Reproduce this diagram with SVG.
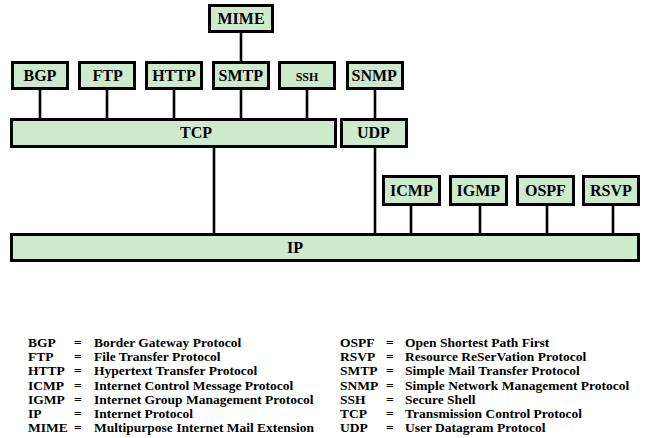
<svg xmlns="http://www.w3.org/2000/svg" width="647" height="438" viewBox="0 0 647 438">
<style>
.box{fill:#cdeacd;stroke:#000;stroke-width:3}
.conn line{stroke:#000;stroke-width:2.6}
text{font-family:'Liberation Serif','Times New Roman',serif;font-weight:bold;fill:#000}
.lbl{font-size:16px}
.leg text{font-size:13.5px}
</style>
<rect width="647" height="438" fill="#fff"/>
<g class="conn" id="connectors">
<line x1="241" y1="33" x2="241" y2="61"/>
<line x1="40" y1="90" x2="40" y2="118"/>
<line x1="107" y1="90" x2="107" y2="118"/>
<line x1="174" y1="90" x2="174" y2="118"/>
<line x1="241" y1="90" x2="241" y2="118"/>
<line x1="307" y1="90" x2="307" y2="118"/>
<line x1="375" y1="90" x2="375" y2="118"/>
<line x1="214" y1="148" x2="214" y2="233"/>
<line x1="375" y1="148" x2="375" y2="233"/>
<line x1="411" y1="205" x2="411" y2="233"/>
<line x1="480" y1="205" x2="480" y2="233"/>
<line x1="547" y1="205" x2="547" y2="233"/>
<line x1="613" y1="205" x2="613" y2="233"/>
</g>
<g id="MIME"><rect class="box" x="209.5" y="5.5" width="63" height="26"/><text class="lbl" x="217.5" y="24">MIME</text></g>
<g id="BGP"><rect class="box" x="12.5" y="62.5" width="55" height="26"/><text class="lbl" x="23.5" y="81">BGP</text></g>
<g id="FTP"><rect class="box" x="79.5" y="62.5" width="55" height="26"/><text class="lbl" x="92.5" y="81">FTP</text></g>
<g id="HTTP"><rect class="box" x="146.5" y="62.5" width="55" height="26"/><text class="lbl" x="152.2" y="81">HTTP</text></g>
<g id="SMTP"><rect class="box" x="213.5" y="62.5" width="55" height="26"/><text class="lbl" x="218.5" y="81">SMTP</text></g>
<g id="SSH"><rect class="box" x="279.5" y="62.5" width="55" height="26"/><text x="295.7" y="81" font-size="12">SSH</text></g>
<g id="SNMP"><rect class="box" x="347.5" y="62.5" width="55" height="26"/><text class="lbl" x="351.5" y="81">SNMP</text></g>
<g id="TCP"><rect class="box" x="11.5" y="119.5" width="324" height="27"/><text class="lbl" x="180" y="138">TCP</text></g>
<g id="UDP"><rect class="box" x="341.5" y="119.5" width="65" height="27"/><text class="lbl" x="357" y="138">UDP</text></g>
<g id="ICMP"><rect class="box" x="383.5" y="176.5" width="56" height="28"/><text class="lbl" x="390" y="196">ICMP</text></g>
<g id="IGMP"><rect class="box" x="450.5" y="176.5" width="56" height="28"/><text class="lbl" x="456.5" y="196">IGMP</text></g>
<g id="OSPF"><rect class="box" x="517.5" y="176.5" width="56" height="28"/><text class="lbl" x="525" y="196">OSPF</text></g>
<g id="RSVP"><rect class="box" x="583.5" y="176.5" width="55" height="28"/><text class="lbl" x="590" y="196">RSVP</text></g>
<g id="IP"><rect class="box" x="11.5" y="234.5" width="627" height="26"/><text class="lbl" x="287" y="253">IP</text></g>
<g id="legend" class="leg">
<text x="28" y="347">BGP</text><text x="74" y="347">=</text><text x="94" y="347">Border Gateway Protocol</text>
<text x="28" y="361.2">FTP</text><text x="74" y="361.2">=</text><text x="94" y="361.2">File Transfer Protocol</text>
<text x="28" y="375.4">HTTP</text><text x="74" y="375.4">=</text><text x="94" y="375.4">Hypertext Transfer Protocol</text>
<text x="28" y="389.6">ICMP</text><text x="74" y="389.6">=</text><text x="94" y="389.6">Internet Control Message Protocol</text>
<text x="28" y="403.8">IGMP</text><text x="74" y="403.8">=</text><text x="94" y="403.8">Internet Group Management Protocol</text>
<text x="28" y="418">IP</text><text x="74" y="418">=</text><text x="94" y="418">Internet Protocol</text>
<text x="28" y="432.2">MIME</text><text x="74" y="432.2">=</text><text x="94" y="432.2">Multipurpose Internet Mail Extension</text>
<text x="340" y="347">OSPF</text><text x="386" y="347">=</text><text x="405" y="347">Open Shortest Path First</text>
<text x="340" y="361.2">RSVP</text><text x="386" y="361.2">=</text><text x="405" y="361.2">Resource ReSerVation Protocol</text>
<text x="340" y="375.4">SMTP</text><text x="386" y="375.4">=</text><text x="405" y="375.4">Simple Mail Transfer Protocol</text>
<text x="340" y="389.6">SNMP</text><text x="386" y="389.6">=</text><text x="405" y="389.6">Simple Network Management Protocol</text>
<text x="340" y="403.8">SSH</text><text x="386" y="403.8">=</text><text x="405" y="403.8">Secure Shell</text>
<text x="340" y="418">TCP</text><text x="386" y="418">=</text><text x="405" y="418">Transmission Control Protocol</text>
<text x="340" y="432.2">UDP</text><text x="386" y="432.2">=</text><text x="405" y="432.2">User Datagram Protocol</text>
</g>
</svg>
